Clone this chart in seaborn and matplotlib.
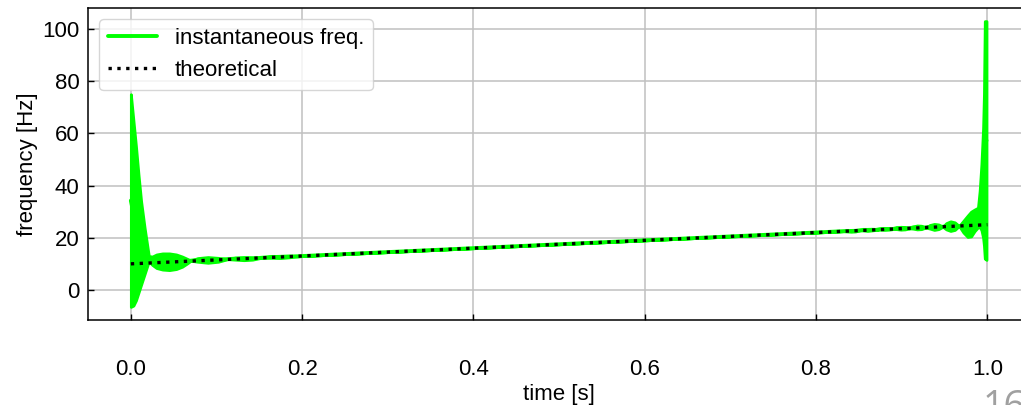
import numpy as np
import pandas as pd
import seaborn as sns
from matplotlib import pyplot as plt

# envelope (upper / lower) of the instantaneous frequency trace
t_env = [0.000, 0.003, 0.006, 0.009, 0.012, 0.016, 0.021,
         0.025, 0.030, 0.037, 0.045, 0.053, 0.060, 0.066, 0.070,
         0.078, 0.090, 0.102, 0.113,
         0.122, 0.132, 0.142, 0.152,
         0.165, 0.175, 0.185, 0.195,
         0.300, 0.500, 0.700, 0.800, 0.831,
         0.836, 0.841, 0.846, 0.850,
         0.855, 0.860, 0.865, 0.870,
         0.875, 0.880, 0.885, 0.889,
         0.894, 0.899, 0.904, 0.909,
         0.913, 0.918, 0.923, 0.928,
         0.933, 0.938, 0.943, 0.948,
         0.952, 0.957, 0.962, 0.967,
         0.972, 0.977, 0.981, 0.985, 0.989, 0.991, 0.993, 0.995, 0.996,
         0.997, 0.999]
f_upper = [75.0, 65.0, 55.0, 44.0, 34.0, 24.0, 13.0,
           12.8, 13.6, 14.0, 14.0, 13.6, 12.8, 11.9, 11.2,
           12.2, 12.6, 12.3, 11.8,
           12.4, 12.6, 12.5, 12.3,
           13.0, 13.1, 13.1, 12.9,
           14.5, 17.5, 20.5, 22.0, 22.5,
           22.8, 22.9, 22.9, 22.8,
           23.2, 23.4, 23.3, 23.0,
           23.5, 23.7, 23.6, 23.3,
           24.0, 24.2, 24.1, 23.6,
           24.3, 24.7, 24.6, 23.9,
           24.9, 25.3, 25.1, 24.2,
           25.6, 26.3, 25.9, 24.5,
           26.5, 28.5, 30.0, 30.8, 31.5, 38.0, 48.0, 62.0, 75.0,
           103.0, 103.0]
f_lower = [-6.5, -6.0, -4.0, -1.0, 2.0, 6.0, 11.0,
           9.6, 8.4, 7.8, 7.6, 8.0, 8.9, 10.2, 11.2,
           10.8, 10.4, 10.8, 11.8,
           11.6, 11.4, 11.6, 12.3,
           12.3, 12.2, 12.5, 12.9,
           14.5, 17.5, 20.5, 22.0, 22.5,
           22.4, 22.3, 22.4, 22.8,
           22.8, 22.6, 22.8, 23.0,
           23.1, 23.0, 23.1, 23.3,
           23.3, 23.1, 23.2, 23.6,
           23.5, 23.2, 23.3, 23.9,
           23.5, 23.0, 23.3, 24.2,
           23.2, 22.6, 23.0, 24.5,
           22.0, 20.3, 20.5, 22.5, 24.0, 24.0, 23.0, 20.0, 17.0,
           12.0, 11.5]

# theoretical linear chirp
t_theory = [0.0, 1.0]
f_theory = [10.0, 25.0]

sns.set_style('ticks')
plt.rcParams['font.family'] = ['Liberation Sans', 'DejaVu Sans']
plt.rcParams['text.color'] = 'black'
plt.rcParams['axes.labelcolor'] = 'black'
plt.rcParams['xtick.color'] = 'black'
plt.rcParams['ytick.color'] = 'black'

df = pd.DataFrame({'t': t_env + t_env, 'f': f_upper + f_lower})

fig = plt.figure(figsize=(10.21, 4.05), dpi=100)
ax = fig.add_axes([0.0862, 0.21, 0.9228, 0.77])

sns.lineplot(data=df, x='t', y='f', estimator='mean', errorbar=('pi', 100),
             color='#00ff00', lw=2.8, ax=ax, label='instantaneous freq.',
             err_kws={'alpha': 1, 'linewidth': 2.0, 'edgecolor': '#00ff00'})
sns.lineplot(x=t_theory, y=f_theory, color='black', ls=':', lw=2.4, ax=ax,
             label='theoretical')

ax.set_xlim(-0.05, 1.05)
ax.set_ylim(-11.5, 108)
ax.set_xticks([0.0, 0.2, 0.4, 0.6, 0.8, 1.0])
ax.set_yticks([0, 20, 40, 60, 80, 100])
ax.grid(True, color='#c0c0c0', lw=1.1)
for s in ax.spines.values():
    s.set_color('black')
    s.set_linewidth(1.1)
ax.tick_params(axis='both', direction='in', length=4, width=1, labelsize=16)
ax.tick_params(axis='x', pad=28)
ax.tick_params(axis='y', pad=6)
ax.set_xlabel('time [s]', fontsize=16, labelpad=3)
ax.set_ylabel('frequency [Hz]', fontsize=16, labelpad=3)

ax.legend(loc='upper left', fontsize=16, frameon=True, fancybox=True,
          framealpha=0.8, edgecolor='#cccccc', borderaxespad=0.5,
          handlelength=2.2, handletextpad=0.8)

# slide page number, cut by the lower edge as in the source
fig.text(0.962, 0.04, '16', fontsize=27, color='#a0a0a0', va='top',
         family=['Open Sans', 'DejaVu Sans'])

fig.savefig('out.png', dpi=100)
